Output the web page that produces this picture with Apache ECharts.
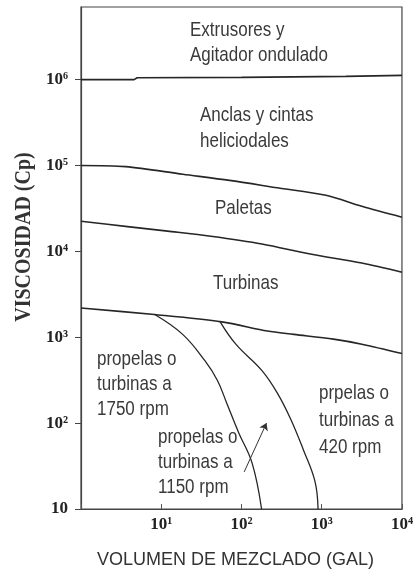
<!DOCTYPE html>
<html>
<head>
<meta charset="utf-8">
<script src="https://cdn.jsdelivr.net/npm/echarts@6/dist/echarts.min.js"></script>
<style>
html,body{margin:0;padding:0;background:#fff;}
#chart{width:416px;height:579px;}
</style>
</head>
<body>
<div id="chart"></div>
<script>
// ---- data (volume in gal, viscosity in cP) ----
const xTickValues = [10, 100, 1000, 10000];
const yTickValues = [10, 100, 1000, 10000, 100000, 1000000];
const xTickLabels = ['10¹', '10²', '10³', '10⁴'];
const yTickLabels = ['10', '10²', '10³', '10⁴', '10⁵', '10⁶'];

const limitExtrusores = [[1, 1.0e6], [4.6, 1.0e6], [5, 1.05e6], [100, 1.06e6], [105, 1.08e6], [2000, 1.09e6], [2100, 1.12e6], [10000, 1.12e6]];
const limitAnclas = [[1, 1.0e5], [3.6, 9.7e4], [18.6, 7.9e4], [71, 6.7e4], [280, 5.5e4], [1130, 4.5e4], [3160, 3.35e4], [10000, 2.5e4]];
const limitPaletas = [[1, 2.24e4], [3.8, 1.94e4], [12, 1.72e4], [41.5, 1.5e4], [180, 1.22e4], [720, 9.3e3], [3160, 7.3e3], [10000, 5.7e3]];
const limitTurbinas = [[1, 2190], [8.2, 1840], [57, 1510], [211, 1180], [450, 1080], [1400, 950], [3160, 830], [10000, 645]];
const curve1750 = [[8.2, 1850], [18.5, 1080], [35, 533], [50, 316], [65, 174], [92, 78], [136, 34], [178, 10]];
const curve420 = [[54, 1520], [85, 830], [179, 411], [279, 225], [411, 111], [590, 49], [824, 21], [900, 10]];
const arrow1150 = [[108, 27], [205, 100]];

const regionLabels = [
  ['Extrusores y', 190, 30], ['Agitador ondulado', 190, 55],
  ['Anclas y cintas', 200, 115], ['heliciodales', 200, 141],
  ['Paletas', 215, 208], ['Turbinas', 213, 283],
  ['propelas o', 97, 359], ['turbinas a', 97, 384], ['1750 rpm', 97, 409],
  ['propelas o', 158, 437], ['turbinas a', 158, 462], ['1150 rpm', 158, 487],
  ['prpelas o', 319, 393], ['turbinas a', 319, 420], ['420 rpm', 319, 447]
];

const lineColor = '#262626';
const textFont = '"Liberation Sans", Arial, sans-serif';
const serifFont = '"Liberation Serif", "DejaVu Serif", serif';

function fmt(list, vals) {
  return function (v) {
    for (let i = 0; i < vals.length; i++) {
      if (Math.abs(Math.log10(v) - Math.log10(vals[i])) < 1e-6) return list[i];
    }
    return '';
  };
}

function lineSeries(data, width, smooth) {
  return {
    type: 'line', data: data, showSymbol: false, symbol: 'none', smooth: smooth,
    lineStyle: {color: lineColor, width: width}, silent: true, animation: false
  };
}

const chart = echarts.init(document.getElementById('chart'), null, {renderer: 'canvas'});
const graphics = regionLabels.map(function (t) {
  return {
    type: 'text', x: t[1], y: t[2], scaleY: 1.18,
    style: {text: t[0], font: '17px ' + textFont, fill: '#3a3a3a', textVerticalAlign: 'middle', textAlign: 'left'}
  };
});
graphics.push({
  type: 'text', x: 24, y: 237, rotation: Math.PI / 2, scaleY: 1.15,
  style: {text: 'VISCOSIDAD (Cp)', font: 'bold 20px ' + serifFont, fill: '#333', textAlign: 'center', textVerticalAlign: 'middle'}
});

chart.setOption({
  backgroundColor: '#fff',
  animation: false,
  grid: {left: 81, right: 11, top: 7, bottom: 70, show: true, borderColor: '#444', borderWidth: 1.2},
  xAxis: {
    type: 'log', logBase: 10, min: 1, max: 10000,
    name: 'VOLUMEN DE MEZCLADO (GAL)', nameLocation: 'middle', nameGap: 42,
    nameTextStyle: {fontFamily: textFont, fontSize: 18, color: '#333', padding: [0, 12, 0, 0]},
    axisLine: {show: true, lineStyle: {color: '#444', width: 1.2}},
    axisTick: {show: true, inside: true, length: 5, lineStyle: {color: '#555'}},
    axisLabel: {margin: 7, fontFamily: serifFont, fontWeight: 'bold', fontSize: 17, color: '#222', formatter: fmt(xTickLabels, xTickValues)},
    splitLine: {show: false}, minorTick: {show: false}
  },
  yAxis: {
    type: 'log', logBase: 10, min: 10, max: 7000000,
    axisLine: {show: true, lineStyle: {color: '#444', width: 1.2}},
    axisTick: {show: true, inside: false, length: 6, lineStyle: {color: '#444'}, customValues: yTickValues},
    axisLabel: {margin: 13, fontFamily: serifFont, fontWeight: 'bold', fontSize: 17, color: '#222', formatter: fmt(yTickLabels, yTickValues), customValues: yTickValues},
    splitLine: {show: false}, minorTick: {show: false}
  },
  graphic: graphics,
  series: [
    lineSeries(limitExtrusores, 1.6, false),
    lineSeries(limitAnclas, 1.6, 0.3),
    lineSeries(limitPaletas, 1.6, 0.3),
    lineSeries(limitTurbinas, 1.6, 0.3),
    lineSeries(curve1750, 1.3, 0.4),
    Object.assign(lineSeries(curve420, 1.3, 0.4), {
      markLine: {
        silent: true, animation: false, symbol: ['none', 'arrow'], symbolSize: 7,
        lineStyle: {color: '#333', width: 1, type: 'solid'}, label: {show: false},
        data: [[{coord: arrow1150[0]}, {coord: arrow1150[1]}]]
      }
    })
  ]
});
</script>
</body>
</html>
